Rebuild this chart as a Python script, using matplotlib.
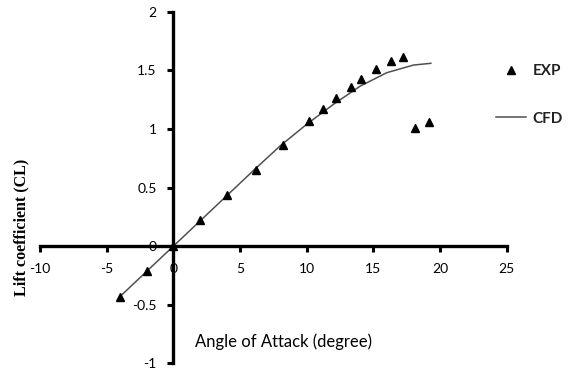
import numpy as np
import matplotlib
matplotlib.use("Agg")
import matplotlib.pyplot as plt

# experimental lift data
exp_aoa = [-4, -2, 0, 2, 4, 6.2, 8.2, 10.2, 11.2, 12.2, 13.3, 14.1, 15.2, 16.3, 17.2, 18.1, 19.2]
exp_cl = [-0.43, -0.21, 0.0, 0.22, 0.44, 0.65, 0.86, 1.07, 1.17, 1.26, 1.36, 1.43, 1.51, 1.58, 1.61, 1.01, 1.06]

# CFD curve
cfd_aoa = [-4, -2, 0, 2, 4, 6, 8, 10, 12, 14, 16, 18, 19.3]
cfd_cl = [-0.43, -0.215, 0.0, 0.215, 0.43, 0.645, 0.855, 1.04, 1.21, 1.365, 1.48, 1.545, 1.56]

xticks = [-10, -5, 0, 5, 10, 15, 20, 25]
yticks = [-1, -0.5, 0, 0.5, 1, 1.5, 2]

plt.rcParams['font.family'] = ['Lato', 'DejaVu Sans']

fig = plt.figure(figsize=(5.7, 3.74), dpi=100)
ax = fig.add_axes([0.0702, 0.0286, 0.819, 0.940])

ax.plot(exp_aoa, exp_cl, linestyle='none', marker='^', color='black',
        markersize=5.5, label='EXP', zorder=3)
ax.plot(cfd_aoa, cfd_cl, color='#505050', linewidth=1.1, label='CFD', zorder=2)

ax.set_xlim(-10, 25)
ax.set_ylim(-1, 2)
ax.set_xticks(xticks)
ax.set_yticks(yticks)
ax.set_xticklabels([str(t) for t in xticks], fontweight='bold', fontsize=11, color='#222222')
ax.set_yticklabels([('%g' % t) for t in yticks], fontweight='bold', fontsize=11, color='#222222')

for side in ['top', 'right']:
    ax.spines[side].set_visible(False)
ax.spines['left'].set_position(('data', 0))
ax.spines['bottom'].set_position(('data', 0))
ax.spines['left'].set_linewidth(2.4)
ax.spines['bottom'].set_linewidth(2.4)
ax.tick_params(axis='both', direction='out', length=4, width=2.2, pad=8)

fig.text(0.038, 0.393, 'Lift coefficient (CL)', rotation=90, ha='center', va='center',
         family='Liberation Serif', fontweight='bold', fontsize=11.5)
fig.text(0.497, 0.085, 'Angle of Attack (degree)', ha='center', va='center', fontsize=12)

leg = ax.legend(loc='upper left', bbox_to_anchor=(0.947, 0.89), frameon=False,
                handlelength=2.0, labelspacing=2.2, handletextpad=0.4,
                prop={'weight': 'bold', 'size': 11})
for t in leg.get_texts():
    t.set_color('#222222')

fig.savefig('out.png', dpi=100)
